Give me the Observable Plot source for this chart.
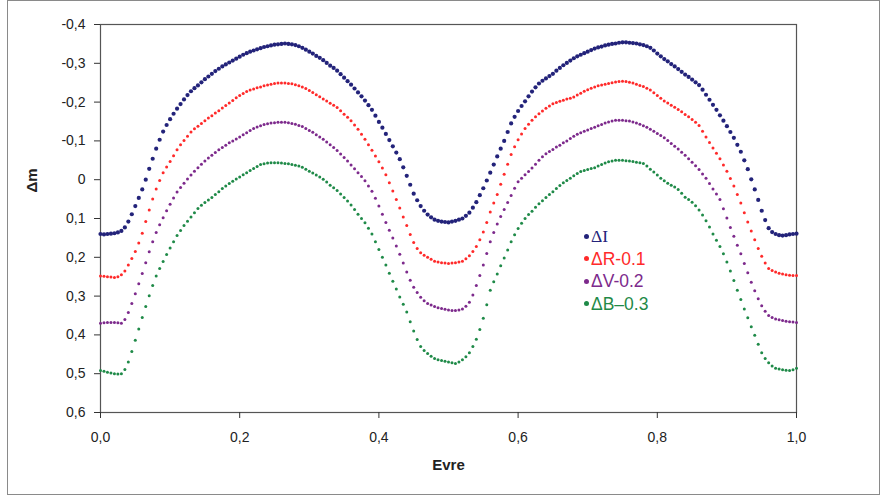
<!DOCTYPE html>
<html>
<head>
<meta charset="utf-8">
<script src="https://cdn.jsdelivr.net/npm/d3@7"></script>
<script src="https://cdn.jsdelivr.net/npm/@observablehq/plot@0.6"></script>
<style>
  html, body { margin: 0; padding: 0; background: #fff; }
  #wrap { position: relative; width: 885px; height: 500px; font-family: "Liberation Sans", Arial, sans-serif; }
  #border { position: absolute; left: 7px; top: 0px; width: 873px; height: 495px; border: 1px solid #8a8a8a; box-sizing: border-box; pointer-events: none; }
  #legend { position: absolute; left: 584px; top: 225px; font-size: 17.5px; line-height: 22.5px; }
  #legend div { white-space: nowrap; }
  #legend span.d { display: inline-block; width: 5px; height: 5px; border-radius: 50%; margin-right: 2px; vertical-align: middle; position: relative; top: -1px; }
</style>
</head>
<body>
<div id="wrap"><div id="border"></div><div id="legend"></div></div>
<script>
// Phase grid (0.000 .. 1.000, step 0.005)
const phases = d3.range(0, 201).map(i => i / 200);

// Magnitude differences at each phase
const dI = [
  0.140,0.141,0.140,0.139,0.138,0.136,0.132,0.123,0.108,0.089,
  0.068,0.047,0.025,0.000,-0.028,-0.054,-0.080,-0.103,-0.124,-0.141,
  -0.156,-0.170,-0.183,-0.195,-0.207,-0.218,-0.228,-0.236,-0.243,-0.251,
  -0.259,-0.266,-0.273,-0.280,-0.286,-0.292,-0.297,-0.302,-0.307,-0.312,
  -0.317,-0.322,-0.326,-0.330,-0.333,-0.336,-0.339,-0.342,-0.344,-0.346,
  -0.348,-0.349,-0.350,-0.351,-0.350,-0.349,-0.347,-0.344,-0.340,-0.335,
  -0.330,-0.325,-0.319,-0.314,-0.308,-0.301,-0.294,-0.288,-0.281,-0.272,
  -0.263,-0.254,-0.245,-0.235,-0.225,-0.215,-0.204,-0.192,-0.180,-0.165,
  -0.149,-0.134,-0.118,-0.102,-0.086,-0.070,-0.053,-0.032,-0.010,0.013,
  0.036,0.053,0.068,0.080,0.090,0.097,0.103,0.106,0.108,0.109,
  0.110,0.108,0.106,0.103,0.100,0.093,0.085,0.072,0.058,0.040,
  0.022,0.002,-0.018,-0.039,-0.060,-0.080,-0.100,-0.123,-0.145,-0.162,
  -0.177,-0.190,-0.202,-0.215,-0.227,-0.238,-0.248,-0.255,-0.261,-0.267,
  -0.273,-0.281,-0.288,-0.295,-0.301,-0.307,-0.313,-0.318,-0.322,-0.326,
  -0.330,-0.334,-0.338,-0.341,-0.343,-0.346,-0.348,-0.350,-0.351,-0.353,
  -0.354,-0.354,-0.353,-0.352,-0.351,-0.349,-0.347,-0.344,-0.340,-0.333,
  -0.325,-0.318,-0.311,-0.305,-0.298,-0.292,-0.285,-0.278,-0.271,-0.265,
  -0.258,-0.251,-0.244,-0.232,-0.219,-0.206,-0.193,-0.180,-0.166,-0.152,
  -0.138,-0.123,-0.108,-0.090,-0.072,-0.050,-0.027,-0.001,0.025,0.052,
  0.080,0.104,0.125,0.135,0.140,0.143,0.144,0.143,0.141,0.140,
  0.139];

const dR = [
  0.248,0.249,0.250,0.251,0.252,0.250,0.245,0.235,0.220,0.203,
  0.185,0.163,0.138,0.108,0.078,0.050,0.024,0.002,-0.018,-0.033,
  -0.047,-0.062,-0.077,-0.090,-0.101,-0.112,-0.123,-0.131,-0.138,-0.145,
  -0.152,-0.159,-0.165,-0.172,-0.178,-0.185,-0.191,-0.198,-0.204,-0.211,
  -0.217,-0.222,-0.227,-0.231,-0.234,-0.237,-0.239,-0.242,-0.244,-0.246,
  -0.248,-0.249,-0.249,-0.249,-0.248,-0.247,-0.245,-0.242,-0.239,-0.235,
  -0.230,-0.225,-0.219,-0.214,-0.208,-0.203,-0.197,-0.192,-0.186,-0.178,
  -0.169,-0.161,-0.152,-0.141,-0.130,-0.117,-0.104,-0.090,-0.076,-0.061,
  -0.046,-0.030,-0.013,0.008,0.029,0.051,0.073,0.096,0.118,0.141,
  0.162,0.177,0.188,0.195,0.200,0.205,0.210,0.212,0.214,0.215,
  0.216,0.215,0.214,0.212,0.210,0.204,0.196,0.185,0.172,0.155,
  0.135,0.110,0.083,0.060,0.038,0.012,-0.014,-0.040,-0.065,-0.085,
  -0.103,-0.118,-0.132,-0.143,-0.153,-0.162,-0.170,-0.177,-0.184,-0.190,
  -0.196,-0.199,-0.202,-0.205,-0.208,-0.210,-0.213,-0.218,-0.223,-0.228,
  -0.232,-0.236,-0.239,-0.242,-0.244,-0.246,-0.248,-0.250,-0.252,-0.253,
  -0.254,-0.253,-0.251,-0.249,-0.246,-0.243,-0.240,-0.236,-0.231,-0.224,
  -0.217,-0.210,-0.203,-0.198,-0.192,-0.187,-0.181,-0.175,-0.168,-0.162,
  -0.155,-0.148,-0.140,-0.125,-0.110,-0.096,-0.082,-0.068,-0.054,-0.038,
  -0.022,-0.003,0.016,0.038,0.060,0.085,0.109,0.132,0.155,0.177,
  0.197,0.215,0.229,0.234,0.238,0.241,0.243,0.245,0.246,0.247,
  0.247];

const dV = [
  0.370,0.369,0.368,0.368,0.368,0.369,0.370,0.360,0.342,0.319,
  0.294,0.268,0.242,0.214,0.186,0.160,0.136,0.116,0.098,0.080,
  0.063,0.047,0.032,0.020,0.009,-0.002,-0.012,-0.022,-0.031,-0.040,
  -0.048,-0.056,-0.063,-0.070,-0.077,-0.083,-0.089,-0.095,-0.100,-0.105,
  -0.110,-0.116,-0.121,-0.127,-0.132,-0.136,-0.139,-0.142,-0.144,-0.146,
  -0.147,-0.148,-0.148,-0.148,-0.147,-0.145,-0.143,-0.140,-0.137,-0.132,
  -0.127,-0.122,-0.116,-0.110,-0.104,-0.097,-0.090,-0.083,-0.075,-0.066,
  -0.057,-0.048,-0.038,-0.028,-0.018,-0.008,0.003,0.016,0.030,0.048,
  0.068,0.089,0.110,0.130,0.150,0.171,0.192,0.215,0.238,0.259,
  0.277,0.291,0.303,0.312,0.319,0.323,0.327,0.330,0.332,0.334,
  0.336,0.337,0.337,0.336,0.333,0.326,0.316,0.297,0.273,0.247,
  0.220,0.190,0.160,0.136,0.114,0.095,0.077,0.059,0.041,0.022,
  0.005,-0.004,-0.013,-0.021,-0.030,-0.040,-0.050,-0.059,-0.067,-0.073,
  -0.078,-0.084,-0.089,-0.095,-0.100,-0.106,-0.112,-0.117,-0.121,-0.125,
  -0.128,-0.132,-0.135,-0.139,-0.142,-0.146,-0.149,-0.151,-0.153,-0.153,
  -0.153,-0.152,-0.151,-0.149,-0.146,-0.143,-0.139,-0.135,-0.130,-0.125,
  -0.119,-0.114,-0.108,-0.101,-0.093,-0.086,-0.079,-0.071,-0.063,-0.054,
  -0.045,-0.036,-0.026,-0.015,-0.004,0.010,0.024,0.037,0.051,0.075,
  0.099,0.123,0.146,0.169,0.191,0.216,0.240,0.264,0.286,0.307,
  0.325,0.339,0.350,0.355,0.359,0.361,0.363,0.365,0.366,0.367,
  0.368];

const dB = [
  0.492,0.494,0.496,0.498,0.500,0.501,0.500,0.489,0.470,0.443,
  0.414,0.385,0.355,0.327,0.299,0.273,0.248,0.229,0.211,0.193,
  0.176,0.160,0.144,0.131,0.118,0.107,0.096,0.085,0.074,0.066,
  0.059,0.052,0.046,0.038,0.031,0.023,0.016,0.010,0.004,-0.002,
  -0.007,-0.013,-0.018,-0.024,-0.029,-0.034,-0.039,-0.041,-0.043,-0.044,
  -0.044,-0.044,-0.043,-0.042,-0.041,-0.039,-0.037,-0.035,-0.032,-0.027,
  -0.022,-0.017,-0.012,-0.007,-0.001,0.006,0.014,0.021,0.028,0.037,
  0.046,0.055,0.065,0.077,0.089,0.100,0.111,0.125,0.140,0.160,
  0.180,0.200,0.220,0.241,0.262,0.282,0.302,0.321,0.341,0.366,
  0.390,0.412,0.430,0.440,0.448,0.455,0.461,0.464,0.466,0.468,
  0.470,0.472,0.474,0.470,0.464,0.456,0.446,0.430,0.411,0.386,
  0.357,0.322,0.285,0.263,0.243,0.222,0.202,0.181,0.160,0.142,
  0.126,0.112,0.100,0.090,0.081,0.071,0.062,0.054,0.046,0.038,
  0.031,0.023,0.015,0.008,0.002,-0.004,-0.010,-0.016,-0.021,-0.024,
  -0.026,-0.029,-0.031,-0.035,-0.039,-0.043,-0.046,-0.048,-0.050,-0.050,
  -0.050,-0.049,-0.048,-0.047,-0.045,-0.044,-0.042,-0.035,-0.027,-0.020,
  -0.012,-0.004,0.003,0.009,0.014,0.019,0.025,0.035,0.045,0.051,
  0.058,0.067,0.078,0.091,0.106,0.122,0.140,0.156,0.172,0.191,
  0.212,0.235,0.260,0.285,0.309,0.333,0.356,0.379,0.401,0.424,
  0.446,0.461,0.472,0.480,0.486,0.488,0.490,0.491,0.492,0.490,
  0.486];

const seriesNames = ["ΔI", "ΔR-0.1", "ΔV-0.2", "ΔB–0.3"];
const seriesColors = ["#23237a", "#ff2a2a", "#7d2a8c", "#1f8a48"];
const seriesValues = [dI, dR, dV, dB];

const xTicks = [0, 0.2, 0.4, 0.6, 0.8, 1.0];
const yTicks = [-0.4, -0.3, -0.2, -0.1, 0, 0.1, 0.2, 0.3, 0.4, 0.5, 0.6];

const rows = [];
seriesValues.forEach((vals, s) => {
  vals.forEach((v, i) => rows.push({phase: phases[i], dm: v, series: seriesNames[s]}));
});

const fmtX = d => d.toFixed(1).replace(".", ",");
const fmtY = d => d === 0 ? "0" : d.toFixed(1).replace(".", ",");

const dotRadius = {"ΔI": 2.1, "ΔR-0.1": 1.5, "ΔV-0.2": 1.5, "ΔB–0.3": 1.5};

const dotMarks = seriesNames.map(name =>
  Plot.dot(rows.filter(d => d.series === name), {
    x: "phase", y: "dm", fill: "series", r: dotRadius[name], stroke: null
  })
);

const chart = Plot.plot({
  width: 885,
  height: 500,
  marginLeft: 100,
  marginRight: 89,
  marginTop: 24,
  marginBottom: 88,
  style: {fontFamily: "'Liberation Sans', Arial, sans-serif", fontSize: "14px", color: "#222", background: "transparent"},
  x: {domain: [0, 1]},
  y: {domain: [-0.4, 0.6], reverse: true},
  color: {domain: seriesNames, range: seriesColors},
  marks: [
    Plot.frame({stroke: "#555", strokeWidth: 1.2}),
    Plot.axisX(xTicks, {tickSize: 6, tickPadding: 14, tickFormat: fmtX, label: null, stroke: "#333", fill: "#222", fontSize: 14}),
    Plot.axisY(yTicks, {tickSize: 6, tickPadding: 9, tickFormat: fmtY, label: null, stroke: "#333", fill: "#222", fontSize: 14}),
    ...dotMarks,
    Plot.text(["Evre"], {frameAnchor: "bottom", dy: 57, fontWeight: "bold", fontSize: 15, fill: "#222"}),
    Plot.text(["Δm"], {frameAnchor: "left", dx: -68, dy: -26, rotate: -90, fontWeight: "bold", fontSize: 15, fill: "#222"})
  ]
});

const wrap = document.getElementById("wrap");
wrap.insertBefore(chart, wrap.firstChild);

const legend = document.getElementById("legend");
seriesNames.forEach((name, i) => {
  const row = document.createElement("div");
  row.style.color = seriesColors[i];
  if (i === 0) row.style.fontFamily = "'Liberation Serif', 'Times New Roman', serif";
  row.innerHTML = `<span class="d" style="background:${seriesColors[i]}"></span>${name}`;
  legend.appendChild(row);
});
</script>
</body>
</html>
